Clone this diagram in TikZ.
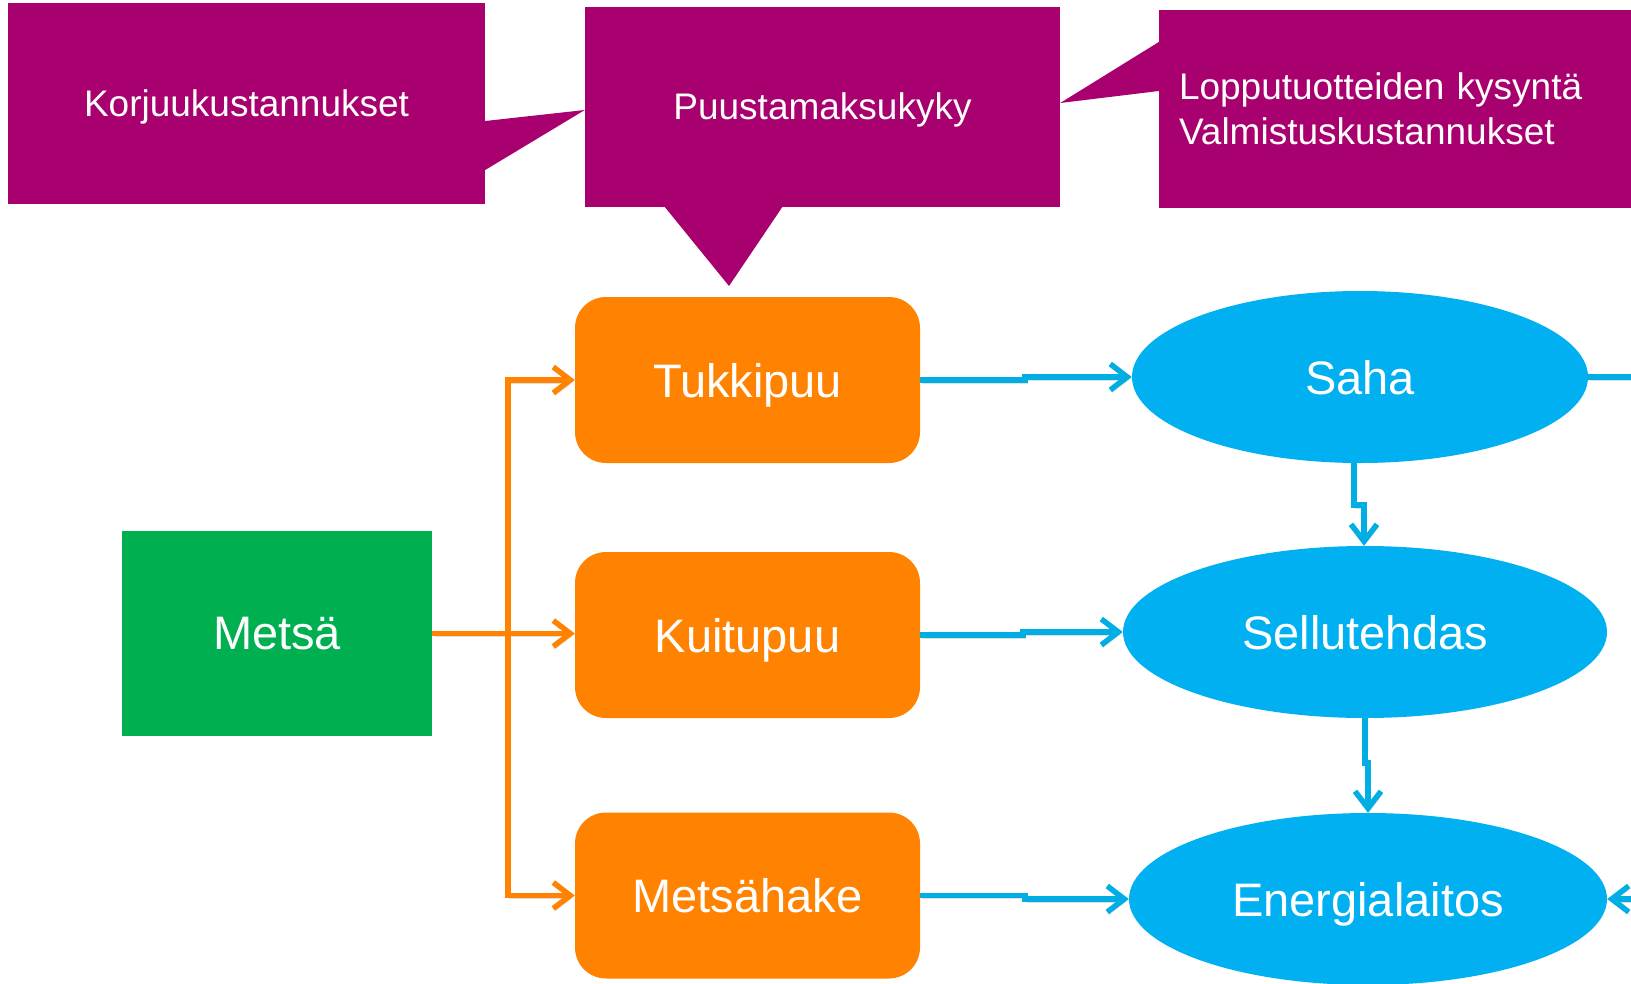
\documentclass[tikz,border=0pt]{standalone}
\usepackage{fontspec}
\setmainfont{Liberation Sans}
\usetikzlibrary{arrows.meta,shapes.geometric}
\definecolor{calloutc}{RGB}{168,0,110}
\definecolor{orangec}{RGB}{255,130,0}
\definecolor{bluec}{RGB}{0,176,240}
\definecolor{blueline}{RGB}{0,174,228}
\definecolor{greenc}{RGB}{0,176,80}
\tikzset{
  calltext/.style={fill=calloutc, text=white, inner sep=0pt, font=\fontsize{37}{45}\selectfont},
  callbox/.style={calltext, text depth=0pt},
  callfill/.style={fill=calloutc},
  woodbox/.style={fill=orangec, text=white, rounded corners=31pt, inner sep=0pt, text depth=0pt,
    minimum width=345pt, minimum height=166pt, font=\fontsize{47}{56}\selectfont},
  forestbox/.style={fill=greenc, text=white, inner sep=0pt, text depth=0pt,
    minimum width=310pt, minimum height=205pt, font=\fontsize{47}{56}\selectfont},
  mill/.style={ellipse, fill=bluec, text=white, inner sep=0pt, text depth=0pt,
    minimum height=172pt, font=\fontsize{47}{56}\selectfont},
  barb/.tip={Straight Barb[length=17pt,width=26pt]},
  softshade/.style={preaction={draw=black!60, draw opacity=0.2, transform canvas={xshift=1.5pt,yshift=-3pt}}},
  oline/.style={draw=orangec, line width=5.5pt, softshade},
  bline/.style={draw=blueline, line width=5.5pt, softshade},
}
\begin{document}
\begin{tikzpicture}[x=1pt,y=-1pt]
\useasboundingbox (0,0) rectangle (1631,983);

% callouts
\node[callbox, minimum width=477pt, minimum height=201pt] (korj) at (246.5,103.5) {Korjuukustannukset};
\node[callbox, minimum width=475pt, minimum height=200pt] (puusta) at (822.5,106.5) {Puustamaksukyky};
\node[calltext, minimum width=472pt, minimum height=198pt, text width=432pt, inner xsep=20pt, align=left] (loppu) at (1395,109) {Lopputuotteiden kysyntä\\Valmistuskustannukset};
\fill[callfill] (korj.east |- 0,121) -- (puusta.west |- 0,110) -- (korj.east |- 0,170) -- cycle;
\fill[callfill] (664,206) -- (729,286) -- (783,206) -- cycle;
\fill[callfill] (loppu.west |- 0,42) -- (puusta.east |- 0,103) -- (loppu.west |- 0,91) -- cycle;

% nodes
\node[forestbox] (metsa) at (277,633.5) {Metsä};
\node[woodbox] (tukki) at (747.5,380) {Tukkipuu};
\node[woodbox] (kuitu) at (747.5,635) {Kuitupuu};
\node[woodbox] (hake) at (747.5,895.5) {Metsähake};
\node[mill, minimum width=456pt] (saha) at (1360,377) {Saha};
\node[mill, minimum width=484pt] (selu) at (1365,632) {Sellutehdas};
\node[mill, minimum width=478pt] (energ) at (1368,899) {Energialaitos};

% orange connectors
\coordinate (tx) at (508,0);
\draw[oline, -{barb}] (metsa.east) -- (metsa.east -| kuitu.west);
\draw[oline, {barb}-{barb}] (tukki.west) -- (tx |- tukki.west) -- (tx |- hake.west) -- (hake.west);

% blue connectors
\draw[bline, -{barb}] (tukki.east) -- ++(105,0) |- (saha.west);
\draw[bline, -{barb}] (kuitu.east) -- ++(103,0) |- (selu.west);
\draw[bline, -{barb}] (hake.east) -- ++(105,0) |- (energ.west);
\draw[bline, -{barb}] ([xshift=-6pt]saha.south) -- ++(0,42) -| ([xshift=-1pt]selu.north);
\draw[bline, -{barb}] (selu.south) -- ++(0,45) -| (energ.north);
\coordinate (redge1) at (1631,377);
\coordinate (redge2) at (1631,899);
\draw[bline] (saha.east) -- (redge1);
\draw[bline, -{barb}] (redge2) -- (energ.east);
\end{tikzpicture}
\end{document}
